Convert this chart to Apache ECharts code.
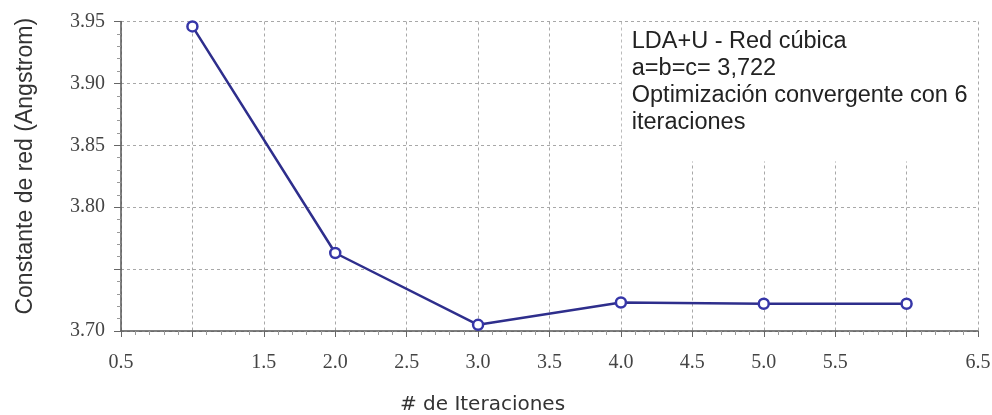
<!DOCTYPE html>
<html>
<head>
<meta charset="utf-8">
<title>LDA+U - Red cúbica</title>
<script src="https://cdn.jsdelivr.net/npm/echarts@6/dist/echarts.min.js"></script>
<style>
  html, body { margin: 0; padding: 0; background: #ffffff; }
  #chart { width: 992px; height: 415px; }
</style>
</head>
<body>
<div id="chart"></div>
<script>
// Lattice constant per optimisation step
const iterations = [1, 2, 3, 4, 5, 6];
const latticeConstant = [3.946, 3.763, 3.705, 3.723, 3.722, 3.722];

// Tick labels that are printed on each axis
const xTickLabels = ['0.5', '1.5', '2.0', '2.5', '3.0', '3.5', '4.0', '4.5', '5.0', '5.5', '6.5'];
const yTickLabels = ['3.70', '3.80', '3.85', '3.90', '3.95'];

// Note text shown in the upper right corner
const noteLines = [
  'LDA+U - Red cúbica',
  'a=b=c= 3,722',
  'Optimización convergente con 6',
  'iteraciones'
];
// Extent of the white panel behind the note, in axis units
// (kept just inside the 4.0 / 6.5 / 3.95 grid lines so those stay visible)
const notePanel = { x0: 4.006, x1: 6.494, y0: 3.837, y1: 3.9495 };

const tickFont = 'Liberation Serif, Times New Roman, serif';
const sansFont = 'Liberation Sans, Arial, sans-serif';

const chart = echarts.init(document.getElementById('chart'), null, { renderer: 'canvas' });

const gridLine = { show: true, lineStyle: { color: '#a8a8a8', width: 1, type: [3, 3] } };

chart.setOption({
  backgroundColor: '#ffffff',
  animation: false,
  grid: { left: 121, right: 14, top: 21.5, bottom: 84, containLabel: false, outerBoundsMode: 'none' },
  xAxis: {
    type: 'value',
    min: 0.5,
    max: 6.5,
    interval: 0.5,
    name: '# de Iteraciones',
    nameLocation: 'middle',
    nameGap: 64,
    nameTextStyle: { fontFamily: 'DejaVu Sans, Verdana, sans-serif', fontSize: 20, color: '#333', padding: [0, 134, 0, 0] },
    axisLine: { show: true, onZero: false, lineStyle: { color: '#555', width: 1.5 } },
    axisTick: { show: true, inside: false, length: 6, lineStyle: { color: '#666', width: 1 } },
    minorTick: { show: true, splitNumber: 5, length: 4, lineStyle: { color: '#999', width: 1 } },
    splitLine: gridLine,
    axisLabel: {
      margin: 22,
      fontFamily: tickFont,
      fontSize: 20,
      color: '#444',
      formatter: function (v) {
        const s = v.toFixed(1);
        return xTickLabels.indexOf(s) >= 0 ? s : '';
      }
    }
  },
  yAxis: {
    type: 'value',
    min: 3.70,
    max: 3.95,
    interval: 0.05,
    name: 'Constante de red (Angstrom)',
    nameLocation: 'middle',
    nameRotate: 90,
    nameGap: 84,
    nameTextStyle: { fontFamily: sansFont, fontSize: 23, color: '#333', padding: [0, 0, 0, 20] },
    axisLine: { show: true, onZero: false, lineStyle: { color: '#555', width: 1.5 } },
    axisTick: { show: true, inside: false, length: 7, lineStyle: { color: '#666', width: 1 } },
    minorTick: { show: true, splitNumber: 5, length: 4, lineStyle: { color: '#999', width: 1 } },
    splitLine: gridLine,
    axisLabel: {
      margin: 16,
      fontFamily: tickFont,
      fontSize: 20,
      color: '#444',
      formatter: function (v) {
        const s = v.toFixed(2);
        return yTickLabels.indexOf(s) >= 0 ? s : '';
      }
    }
  },
  series: [{
    type: 'line',
    data: iterations.map((x, i) => [x, latticeConstant[i]]),
    symbol: 'circle',
    symbolSize: 10,
    showSymbol: true,
    clip: false,
    lineStyle: { color: '#2e2e8c', width: 2.5 },
    itemStyle: { color: '#ffffff', borderColor: '#3636a8', borderWidth: 2.5 },
    z: 3,
    markArea: {
      silent: true,
      z: 1,
      itemStyle: { color: '#ffffff', borderWidth: 0 },
      label: {
        show: true,
        position: 'insideTopLeft',
        distance: 0,
        padding: [6, 0, 0, 10],
        fontFamily: sansFont,
        fontSize: 23.5,
        lineHeight: 27,
        color: '#222',
        formatter: noteLines.join('\n')
      },
      data: [[
        { coord: [notePanel.x0, notePanel.y1] },
        { coord: [notePanel.x1, notePanel.y0] }
      ]]
    }
  }]
});
</script>
</body>
</html>
